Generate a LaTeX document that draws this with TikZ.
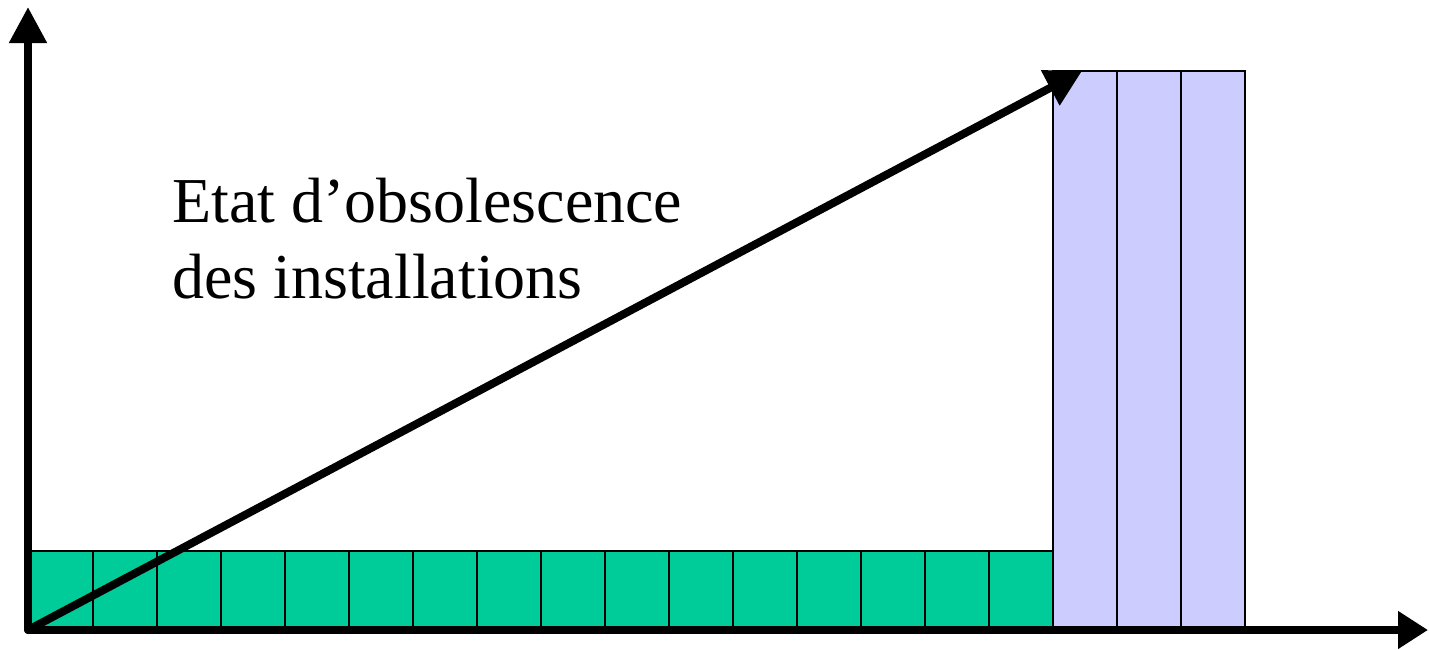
\documentclass[tikz,border=0pt]{standalone}
\usepackage{fontspec}
\setmainfont{Liberation Serif}
\usetikzlibrary{arrows.meta}
\definecolor{cellgreen}{RGB}{0,204,153}
\definecolor{cellblue}{RGB}{204,204,255}
\tikzset{
  axis/.style={line width=8pt, line cap=round},
  greencell/.style={draw=black, fill=cellgreen, line width=1.8pt},
  bluecell/.style={draw=black, fill=cellblue, line width=1.8pt},
  trend/.style={line width=8pt, -{Triangle[length=36pt,width=38pt]}},
}
\begin{document}
\begin{tikzpicture}[x=1pt,y=-1pt]
\useasboundingbox (0,0) rectangle (1429,649);
% green cells
\foreach \i in {0,...,15} {
  \node[greencell, inner sep=0, minimum width=64pt, minimum height=80pt, anchor=north west] (g\i) at ({28+64*\i},550) {};
}
% blue cells
\foreach \i in {0,1,2} {
  \node[bluecell, inner sep=0, minimum width=64pt, minimum height=560pt, anchor=north west] (b\i) at ({1052+64*\i},70) {};
}
\coordinate (O) at (28,630);
\coordinate (Ytip) at (28,7);
\coordinate (Xtip) at (1428,630);
\coordinate (Ttip) at (1082,71);
\draw[axis, -{Triangle[length=36pt,width=36pt]}] (O) -- (Ytip);
\draw[axis, -{Triangle[length=30pt,width=36pt]}] (O) -- (Xtip);
\draw[trend] (O) -- (Ttip);
\node[anchor=base west, align=left, inner sep=0, font=\fontsize{64}{76}\selectfont] (lbl) at (172,298) {Etat d’obsolescence\\des installations};
\end{tikzpicture}
\end{document}
